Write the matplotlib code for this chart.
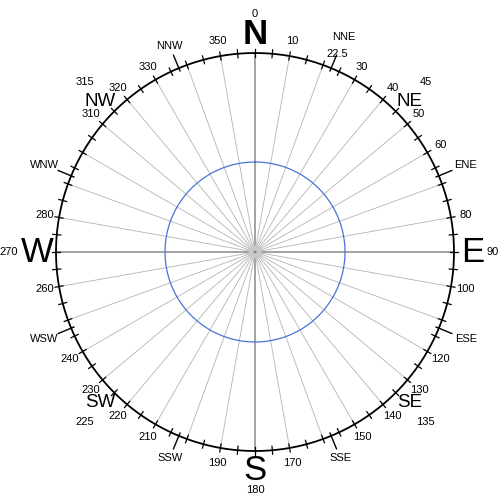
import numpy as np
import matplotlib
matplotlib.use('Agg')
import matplotlib.pyplot as plt

plt.rcParams['font.family'] = ['Liberation Sans', 'DejaVu Sans']

# compass data
radial_deg = np.arange(0, 360, 10)
tick_deg = np.arange(0, 360, 5)
long_tick_deg = [22.5, 67.5, 112.5, 157.5, 202.5, 247.5, 292.5, 337.5]
number_labels = [10, 22.5, 30, 40, 50, 60, 80, 100, 120, 130, 140, 150, 170, 190,
                 210, 220, 230, 240, 260, 280, 310, 320, 330, 350]
cardinal_names = ['N', 'E', 'S', 'W']
cardinal_deg = [0, 90, 180, 270]
inter_names = ['NE', 'SE', 'SW', 'NW']
inter_deg = [45, 135, 225, 315]
minor_names = ['NNE', 'ENE', 'ESE', 'SSE', 'SSW', 'WSW', 'WNW', 'NNW']
minor_deg = [22.5, 67.5, 112.5, 157.5, 202.5, 247.5, 292.5, 337.5]
R = 199
inner_r = 90

fig = plt.figure(figsize=(5, 5), dpi=100)
ax = fig.add_axes([0.01, -0.004, 1, 1], projection='polar')
ax.set_theta_zero_location('N')
ax.set_theta_direction(-1)
ax.set_rlim(0, 250)
ax.axis('off')

# spokes
for d in radial_deg:
    t = np.deg2rad(d)
    if d % 90 == 0:
        ax.plot([t, t], [0, R], color='#8a8a8a', lw=1.1, zorder=2)
    else:
        ax.plot([t, t], [0, R], color='#b4b4b4', lw=0.6, zorder=1)

# circles
th = np.linspace(0, 2 * np.pi, 721)
ax.plot(th, np.full_like(th, R), color='black', lw=1.3, zorder=3)
ax.plot(th, np.full_like(th, inner_r), color='#4a72d8', lw=0.9, zorder=3)
ax.plot(th, np.full_like(th, 4), color='#c8c8c8', lw=3.5, zorder=3)

# ticks
for d in tick_deg:
    t = np.deg2rad(d)
    ax.plot([t, t], [R - 4, R + 4], color='black', lw=0.9, zorder=4)
for d in long_tick_deg:
    t = np.deg2rad(d)
    ax.plot([t, t], [R - 3, R + 14], color='black', lw=1.0, zorder=4)

kw = dict(ha='center', va='center', clip_on=False)

for v in number_labels:
    s = '22.5' if v == 22.5 else str(int(v))
    ax.text(np.deg2rad(v), 214, s, fontsize=8, **kw)

for name, d in zip(cardinal_names, cardinal_deg):
    ax.text(np.deg2rad(d), 218, name, fontsize=25,
            fontweight='bold' if name == 'N' else 'normal', **kw)
    r = 246 if d == 270 else 238
    ax.text(np.deg2rad(d), r, str(d), fontsize=8, **kw)

for name, d in zip(inter_names, inter_deg):
    shift = 0.8 * np.sign(np.sin(np.deg2rad(2 * d)))
    ax.text(np.deg2rad(d + shift), 216, name, fontsize=13.5, **kw)
    ax.text(np.deg2rad(d), 241, str(d), fontsize=8, **kw)

for name, d in zip(minor_names, minor_deg):
    r = 219 + 10 * abs(np.sin(np.deg2rad(d)))
    if name == 'NNE':
        r = 233
    ax.text(np.deg2rad(d), r, name, fontsize=8, **kw)

fig.savefig('out.png', dpi=100)
